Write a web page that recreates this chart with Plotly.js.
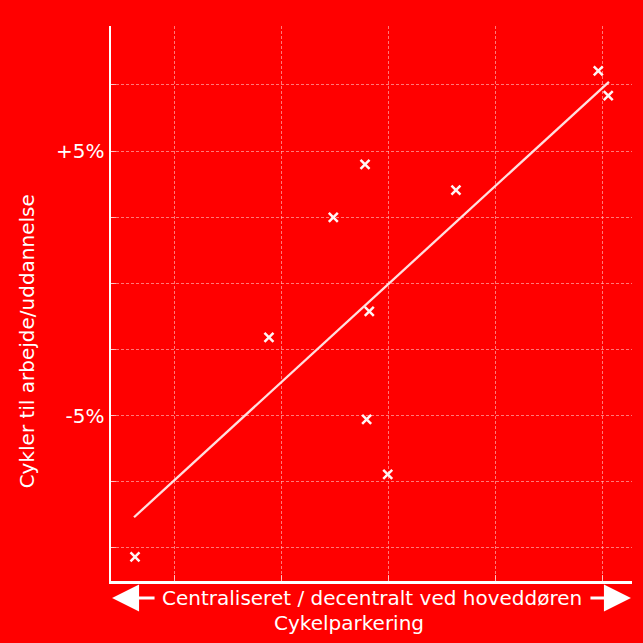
<!DOCTYPE html>
<html>
<head>
<meta charset="utf-8">
<script src="https://cdn.plot.ly/plotly-3.0.1.min.js"></script>
<style>
html,body{margin:0;padding:0;background:#ff0000;}
#chart{width:643px;height:643px;}
</style>
</head>
<body>
<div id="chart"></div>
<script>
// Data (x: position on centralised/decentralised scale, y: % change in cycling)
const pointsX = [0.633, 1.884, 2.485, 2.781, 2.821, 2.796, 2.993, 3.630, 4.959, 5.052];
const pointsY = [-10.34, -2.04, 2.50, 4.50, -1.06, -5.14, -7.22, 3.53, 8.03, 7.10];
const trendX = [0.624, 5.059];
const trendY = [-8.84, 7.62];
const xTickVals = [1, 2, 3, 4, 5];
const yTickVals = [7.5, 5, 2.5, 0, -2.5, -5, -7.5, -10];
const yTickText = ['', '+5%', '', '', '', '-5%', '', ''];
const xLabel = 'Centraliseret / decentralt ved hoveddøren';
const xTitle = 'Cykelparkering';
const yTitle = 'Cykler til arbejde/uddannelse';

const fontFam = 'DejaVu Sans, Verdana, sans-serif';
const gridCol = 'rgba(255,200,200,0.6)';

const traces = [
  {
    x: trendX, y: trendY, mode: 'lines', type: 'scatter',
    line: {color: 'rgba(255,235,235,0.95)', width: 2.3},
    hoverinfo: 'skip'
  },
  {
    x: pointsX, y: pointsY, mode: 'markers', type: 'scatter',
    marker: {symbol: 'x-thin', size: 9, color: '#ffffff', line: {color: '#fff4f4', width: 2.5}}
  }
];

const layout = {
  width: 643, height: 643,
  paper_bgcolor: '#ff0000', plot_bgcolor: '#ff0000',
  margin: {l: 111, r: 11, t: 26, b: 62},
  showlegend: false,
  font: {family: fontFam, color: '#ffffff', size: 20},
  xaxis: {
    range: [0.409, 5.274], tickvals: xTickVals, showticklabels: false,
    showgrid: true, gridcolor: gridCol, gridwidth: 1, griddash: '3px,2px',
    zeroline: false, showline: true, linecolor: '#ffffff', linewidth: 2.5,
    ticks: 'inside', ticklen: 6, tickcolor: 'rgba(255,220,220,0.8)', tickwidth: 1,
    fixedrange: true
  },
  yaxis: {
    range: [-11.25, 9.73], tickvals: yTickVals, ticktext: yTickText,
    showgrid: true, gridcolor: gridCol, gridwidth: 1, griddash: '3px,2px',
    zeroline: false, showline: true, linecolor: '#ffffff', linewidth: 2.5,
    ticks: 'inside', ticklen: 5, tickcolor: 'rgba(255,220,220,0.8)', tickwidth: 1,
    tickfont: {family: fontFam, size: 20, color: '#ffffff'},
    fixedrange: true
  },
  annotations: [
    {xref: 'paper', yref: 'paper', x: 0.501, y: -0.0306, text: xLabel, showarrow: false,
     font: {family: fontFam, size: 20, color: '#ffffff'}, xanchor: 'center', yanchor: 'middle'},
    {xref: 'paper', yref: 'paper', x: 0.456, y: -0.0758, text: xTitle, showarrow: false,
     font: {family: fontFam, size: 20, color: '#ffffff'}, xanchor: 'center', yanchor: 'middle'},
    {xref: 'paper', yref: 'paper', x: -0.161, y: 0.432, text: yTitle, showarrow: false, textangle: -90,
     font: {family: fontFam, size: 20, color: '#ffffff'}, xanchor: 'center', yanchor: 'middle'},
    {xref: 'paper', yref: 'paper', x: 0.002, y: -0.0306, text: '', showarrow: true,
     ax: 44, ay: 0, arrowhead: 2, arrowsize: 1.8, arrowwidth: 3, arrowcolor: '#ffffff'},
    {xref: 'paper', yref: 'paper', x: 0.998, y: -0.0306, text: '', showarrow: true,
     ax: -42, ay: 0, arrowhead: 2, arrowsize: 1.8, arrowwidth: 3, arrowcolor: '#ffffff'}
  ]
};

Plotly.newPlot('chart', traces, layout, {displayModeBar: false, staticPlot: true});
</script>
</body>
</html>
